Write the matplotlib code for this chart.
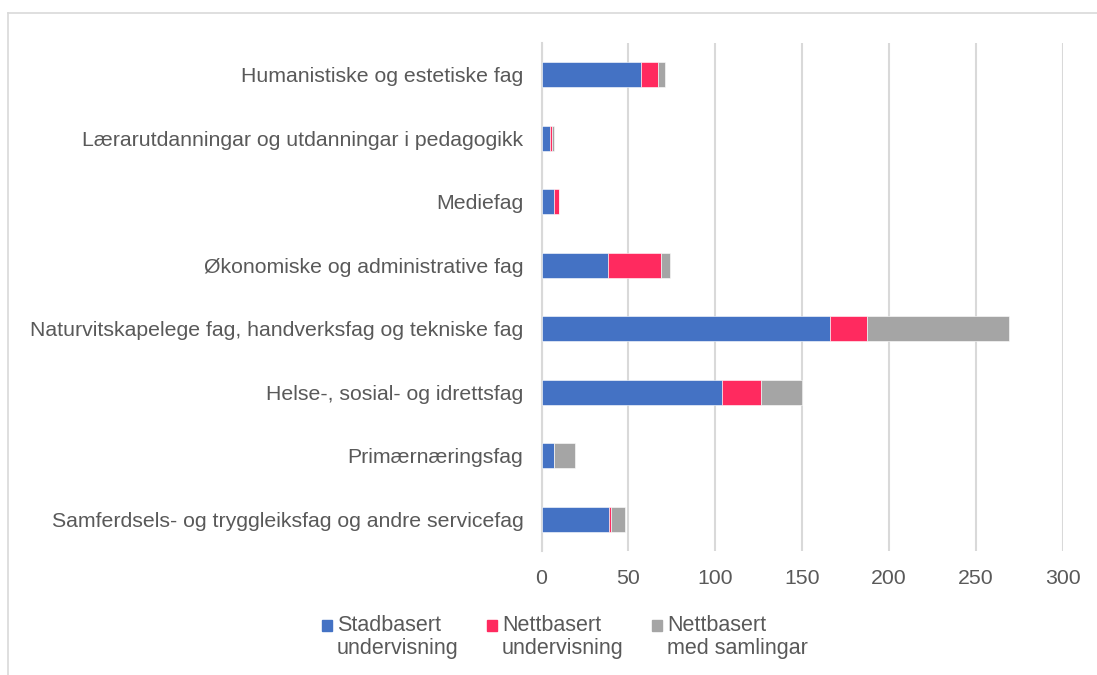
import numpy as np
import matplotlib
matplotlib.use("Agg")
import matplotlib.pyplot as plt
from matplotlib.lines import Line2D
from matplotlib.patches import Rectangle

plt.rcParams["font.family"] = ["Liberation Sans", "DejaVu Sans"]

# ---------------------------------------------------------------------------
# Data
# ---------------------------------------------------------------------------
categories = [
    "Humanistiske og estetiske fag",
    "Lærarutdanningar og utdanningar i pedagogikk",
    "Mediefag",
    "Økonomiske og administrative fag",
    "Naturvitskapelege fag, handverksfag og tekniske fag",
    "Helse-, sosial- og idrettsfag",
    "Primærnæringsfag",
    "Samferdsels- og tryggleiksfag og andre servicefag",
]
stadbasert = [57, 5, 7, 38, 166, 104, 7, 39]
nettbasert = [10, 1, 3, 31, 21, 22, 0, 1]
samlingar = [4, 1, 0, 5, 82, 24, 12, 8]

series_labels = ["Stadbasert\nundervisning",
                 "Nettbasert\nundervisning",
                 "Nettbasert\nmed samlingar"]
series_colors = ["#4472C4", "#FF2A5F", "#A5A5A5"]
x_ticks = [0, 50, 100, 150, 200, 250, 300]

TEXT = "#595959"
GRID = "#D9D9D9"
W, H = 1097, 675

fig = plt.figure(figsize=(W / 100, H / 100), dpi=100)
ax = fig.add_axes([541.5 / W, 1 - 551 / H, (1063 - 541.5) / W, (551 - 43) / H])

y = np.arange(len(categories))
left = np.zeros(len(categories))
for vals, col in zip([stadbasert, nettbasert, samlingar], series_colors):
    vals = np.array(vals, dtype=float)
    ax.barh(y, vals, left=left, height=0.39, color=col,
            edgecolor="white", linewidth=0.4, zorder=3)
    left += vals

ax.set_ylim(len(categories) - 0.5, -0.5)
ax.set_xlim(0, 300)
ax.set_xticks(x_ticks)
ax.set_yticks(y)
ax.set_yticklabels(categories)
ax.tick_params(axis="both", length=0, colors=TEXT, labelsize=15.3)
ax.tick_params(axis="x", pad=13)
ax.tick_params(axis="y", pad=13)
ax.grid(axis="x", color=GRID, linewidth=1.5, zorder=0)
ax.set_axisbelow(True)
for side in ["top", "right", "bottom"]:
    ax.spines[side].set_visible(False)
ax.spines["left"].set_color(GRID)
ax.spines["left"].set_linewidth(1.5)

# legend drawn by hand so the swatch sits on the first text line
legend_x = [322, 487, 652]
for lx, lab, col in zip(legend_x, series_labels, series_colors):
    fig.patches.append(Rectangle((lx / W, 1 - 631 / H), 10 / W, 11 / H,
                                 transform=fig.transFigure, color=col))
    fig.text((lx + 15) / W, 1 - 615 / H, lab, color=TEXT, fontsize=15.5,
             va="top", ha="left", linespacing=1.12)

# chart frame
fig.lines.append(Line2D([8 / W, 1], [1 - 13 / H, 1 - 13 / H],
                        transform=fig.transFigure, color=GRID, linewidth=1.2))
fig.lines.append(Line2D([8 / W, 8 / W], [0, 1 - 13 / H],
                        transform=fig.transFigure, color=GRID, linewidth=1.2))

fig.savefig("out.png", dpi=100)
